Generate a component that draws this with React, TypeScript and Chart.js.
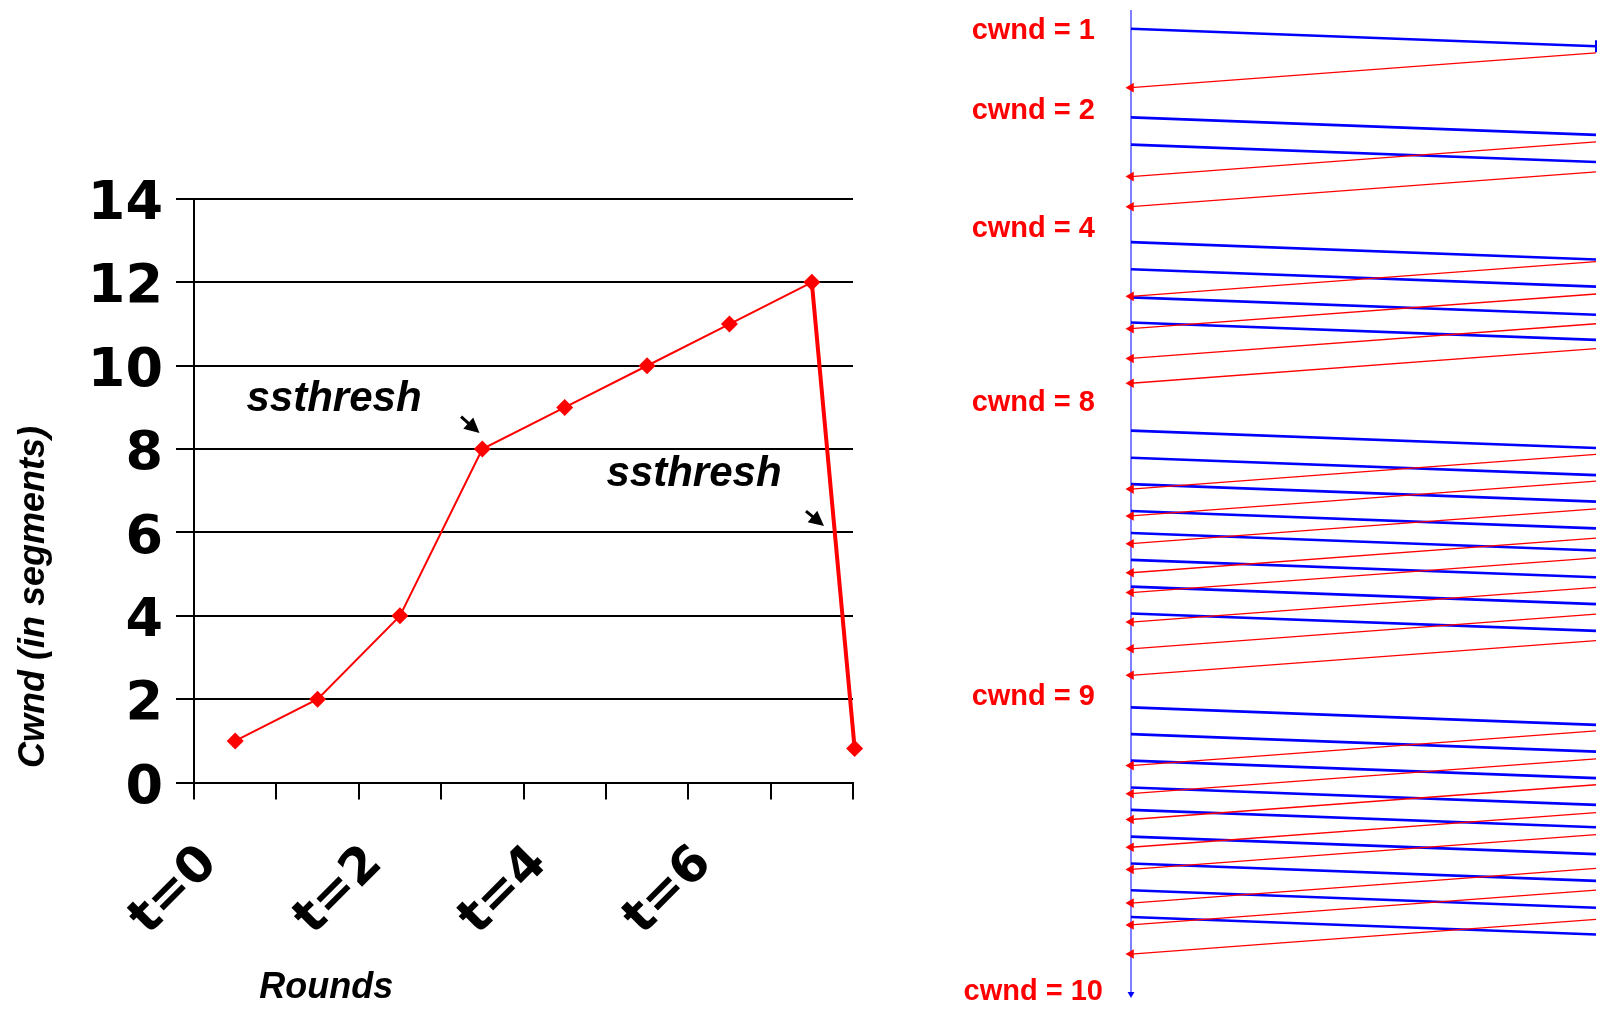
import React, { useEffect, useRef } from 'react';
import { Chart, registerables } from 'chart.js';

Chart.register(...registerables);

const FONT = '"Liberation Sans", Arial, Helvetica, sans-serif';
const HEAVY = '"DejaVu Sans", "Liberation Sans", sans-serif';

// ---------- Left chart: congestion window per round ----------
const roundPositions = [0.5, 1.5, 2.5, 3.5, 4.5, 5.5, 6.5, 7.5, 8.02];
const cwndSegments = [1, 2, 4, 8, 9, 10, 11, 12, 0.82];
const roundTickLabels = ['t=0', '', 't=2', '', 't=4', '', 't=6', '', ''];
const ssthreshTexts = ['ssthresh', 'ssthresh'];
const ssthreshLabelX = [1.7, 6.07];
const ssthreshLabelY = [9.2, 7.39];
const arrowTailX = [3.242, 7.429];
const arrowTailY = [8.777, 6.514];
const arrowTipX = [3.466, 7.648];
const arrowTipY = [8.386, 6.154];
const yTitle = 'Cwnd (in segments)';
const yTitlePos = [-1.941, 4.452];
const xTitle = 'Rounds';
const xTitlePos = [1.606, -4.927];

// ---------- Right chart: sender timeline ----------
const cwndMarkValues = [1, 2, 4, 8, 9, 10];
const cwndMarkTimes = [27, 108, 226.7, 401.7, 699, 995.8];
const segmentSendTimes = [
  25,
  114.3, 141.7,
  240, 267.3, 295.7, 321,
  430, 457.3, 484, 511, 533.3, 560.3, 587.3, 614.3,
  709, 736, 762.7, 789.7, 812.3, 839.3, 866.3, 893.3, 920.3,
];
const ackArrivalTimes = [
  84.3,
  174, 204.3,
  294.7, 327.3, 357.3, 382.3,
  489, 516, 544, 573.3, 593.3, 623, 650, 676.7,
  767.7, 796, 822, 850, 872.3, 906.3, 928.3, 957.7,
];
const SEGMENT_TRANSIT = 17.6;
const ACK_TRANSIT = 35;
const timelineSpan = [6, 998];

const leftDecor = {
  id: 'leftDecor',
  afterDraw(chart: any) {
    const { ctx } = chart;
    const x = chart.scales.x;
    const y = chart.scales.y;
    ctx.save();
    ctx.fillStyle = '#000';
    ctx.strokeStyle = '#000';
    ctx.textAlign = 'center';
    ctx.textBaseline = 'middle';
    ctx.font = `italic bold 42px ${FONT}`;
    ssthreshTexts.forEach((t, i) => {
      ctx.fillText(t, x.getPixelForValue(ssthreshLabelX[i]), y.getPixelForValue(ssthreshLabelY[i]));
    });
    // arrows
    arrowTailX.forEach((_, i) => {
      const x0 = x.getPixelForValue(arrowTailX[i]);
      const y0 = y.getPixelForValue(arrowTailY[i]);
      const x1 = x.getPixelForValue(arrowTipX[i]);
      const y1 = y.getPixelForValue(arrowTipY[i]);
      const a = Math.atan2(y1 - y0, x1 - x0);
      const head = 15;
      const hw = 7.5;
      ctx.lineWidth = 3;
      ctx.beginPath();
      ctx.moveTo(x0, y0);
      ctx.lineTo(x1 - Math.cos(a) * head * 0.8, y1 - Math.sin(a) * head * 0.8);
      ctx.stroke();
      ctx.beginPath();
      ctx.moveTo(x1, y1);
      ctx.lineTo(x1 - Math.cos(a) * head + Math.sin(a) * hw, y1 - Math.sin(a) * head - Math.cos(a) * hw);
      ctx.lineTo(x1 - Math.cos(a) * head - Math.sin(a) * hw, y1 - Math.sin(a) * head + Math.cos(a) * hw);
      ctx.closePath();
      ctx.fill();
    });
    // axis titles
    ctx.font = `italic bold 36px ${FONT}`;
    ctx.fillText(xTitle, x.getPixelForValue(xTitlePos[0]), y.getPixelForValue(xTitlePos[1]));
    ctx.translate(x.getPixelForValue(yTitlePos[0]), y.getPixelForValue(yTitlePos[1]));
    ctx.rotate(-Math.PI / 2);
    ctx.fillText(yTitle, 0, 0);
    ctx.restore();
  },
};

export default function App() {
  const leftRef = useRef<HTMLCanvasElement>(null);
  const rightRef = useRef<HTMLCanvasElement>(null);

  useEffect(() => {
    const lastIdx = roundPositions.length - 1;
    const c1 = new Chart(leftRef.current as HTMLCanvasElement, {
      type: 'line',
      data: {
        datasets: [
          {
            data: roundPositions.map((px, i) => ({ x: px, y: cwndSegments[i] })),
            borderColor: '#ff0000',
            backgroundColor: '#ff0000',
            borderWidth: 2,
            pointStyle: 'rectRot',
            pointRadius: 8.5,
            pointBorderWidth: 0,
            pointBackgroundColor: '#ff0000',
            tension: 0,
            clip: false as any,
            segment: {
              borderWidth: (ctx: any) => (ctx.p1DataIndex === lastIdx ? 4 : 2),
            },
          } as any,
        ],
      },
      options: {
        animation: false,
        responsive: false,
        events: [],
        plugins: { legend: { display: false }, tooltip: { enabled: false } },
        layout: { padding: { top: 199, right: 47, left: 0, bottom: 0 } },
        scales: {
          x: {
            type: 'linear',
            min: 0,
            max: 8,
            ticks: {
              stepSize: 1,
              autoSkip: false,
              minRotation: 45,
              maxRotation: 45,
              padding: 35,
              labelOffset: 16,
              color: '#000',
              font: { family: HEAVY, size: 50, weight: 'bold' },
              callback: (v: any) => roundTickLabels[Math.round(Number(v))] ?? '',
            },
            grid: { drawOnChartArea: false, drawTicks: true, tickLength: 17, color: '#000', lineWidth: 2 },
            border: { display: true, color: '#000', width: 2 },
            afterFit: (s: any) => {
              s.height = 226.4;
              s.paddingLeft = 0;
              s.paddingRight = 0;
            },
          },
          y: {
            type: 'linear',
            min: 0,
            max: 14,
            ticks: {
              stepSize: 2,
              padding: 13,
              labelOffset: 6,
              color: '#000',
              font: { family: HEAVY, size: 54, weight: 'bold' },
            },
            grid: { color: '#000', lineWidth: 2, tickLength: 18 },
            border: { display: true, color: '#000', width: 2 },
            afterFit: (s: any) => {
              s.width = 194;
              s.paddingTop = 0;
              s.paddingBottom = 0;
            },
          },
        },
      } as any,
      plugins: [leftDecor],
    });

    const ackPoints = ackArrivalTimes.flatMap((t) => [
      { x: 1, y: t - ACK_TRANSIT },
      { x: 0, y: t, head: true },
      { x: 0, y: null },
    ]);
    const segPoints = segmentSendTimes.flatMap((t, i) => [
      { x: 0, y: t },
      { x: 1, y: t + SEGMENT_TRANSIT, tick: i === 0 },
      { x: 1, y: null },
    ]);

    const c2 = new Chart(rightRef.current as HTMLCanvasElement, {
      type: 'line',
      data: {
        datasets: [
          {
            data: ackPoints,
            borderColor: '#ff0000',
            borderWidth: 1.3,
            pointStyle: 'triangle',
            pointRotation: 270,
            pointRadius: (ctx: any) => (ctx.raw && ctx.raw.head ? 5.5 : 0),
            pointBackgroundColor: '#ff0000',
            pointBorderWidth: 0,
            spanGaps: false,
            clip: false,
          } as any,
          {
            data: segPoints,
            borderColor: '#0000ff',
            borderWidth: 2.6,
            pointStyle: 'line',
            pointRotation: 90,
            pointRadius: (ctx: any) => (ctx.raw && ctx.raw.tick ? 6 : 0),
            pointBorderColor: '#0000ff',
            pointBorderWidth: 2,
            spanGaps: false,
            clip: false,
          } as any,
          {
            data: [
              { x: 0, y: timelineSpan[0] },
              { x: 0, y: timelineSpan[1], head: true },
            ],
            borderColor: '#7f7fff',
            borderWidth: 2,
            pointStyle: 'triangle',
            pointRotation: 180,
            pointRadius: (ctx: any) => (ctx.raw && ctx.raw.head ? 4 : 0),
            pointBackgroundColor: '#0000ff',
            pointBorderWidth: 0,
            clip: false,
          } as any,
        ],
      },
      options: {
        animation: false,
        responsive: false,
        events: [],
        plugins: { legend: { display: false }, tooltip: { enabled: false } },
        layout: { padding: 0 },
        scales: {
          x: { type: 'linear', min: 0, max: 1, display: false },
          y: {
            type: 'linear',
            min: 0,
            max: 1009,
            reverse: true,
            position: 'left',
            afterBuildTicks: (s: any) => {
              s.ticks = cwndMarkTimes.map((v) => ({ value: v }));
            },
            ticks: {
              autoSkip: false,
              padding: 28,
              crossAlign: 'center',
              color: '#ff0000',
              font: { family: FONT, size: 29, weight: 'bold' },
              callback: (_v: any, i: number) => `cwnd = ${cwndMarkValues[i]}`,
            },
            grid: { display: false, drawTicks: false },
            border: { display: false },
            afterFit: (s: any) => {
              s.width = 231;
              s.paddingTop = 0;
              s.paddingBottom = 0;
            },
          },
        },
      } as any,
    });

    return () => {
      c1.destroy();
      c2.destroy();
    };
  }, []);

  return (
    <div
      style={{
        position: 'absolute',
        left: 0,
        top: 0,
        width: 1600,
        height: 1009,
        background: '#fff',
        overflow: 'hidden',
      }}
    >
      <canvas
        ref={leftRef}
        width={900}
        height={1009}
        style={{ position: 'absolute', left: 0, top: 0, width: 900, height: 1009 }}
      />
      <canvas
        ref={rightRef}
        width={700}
        height={1009}
        style={{ position: 'absolute', left: 900, top: 0, width: 700, height: 1009 }}
      />
    </div>
  );
}
